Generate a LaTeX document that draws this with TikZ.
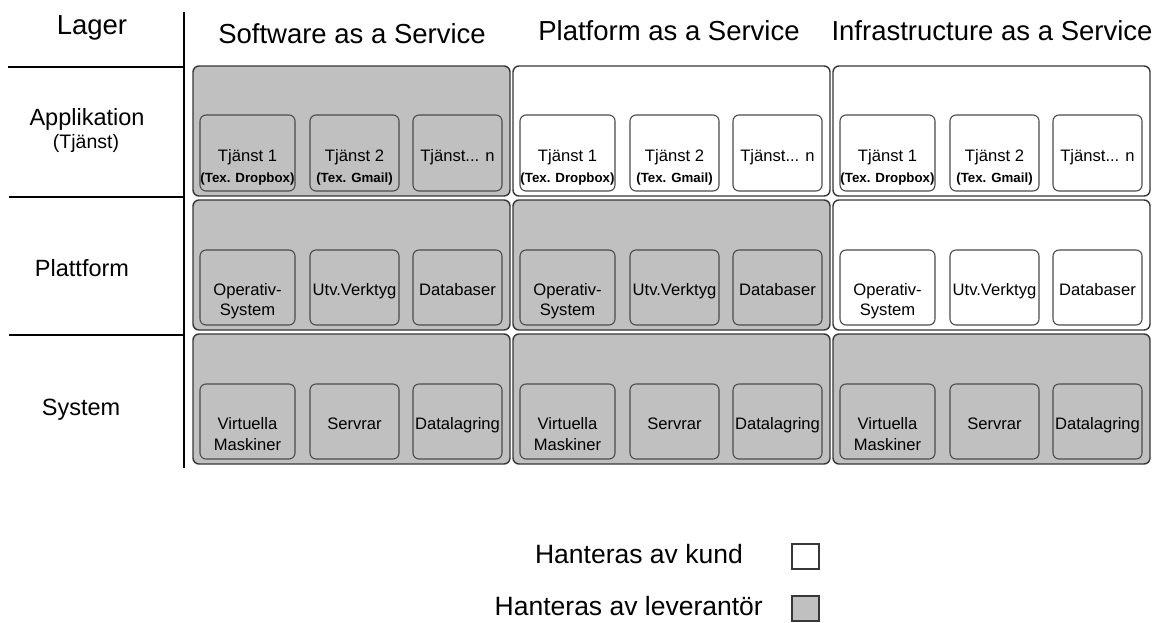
\documentclass[tikz,border=0pt]{standalone}
\usepackage{fontspec}
\setmainfont{Liberation Sans}
\definecolor{grp}{RGB}{192,192,192}
\definecolor{edgec}{RGB}{55,55,55}
\definecolor{inedge}{RGB}{75,75,75}
\tikzset{
  rule/.style={line width=2.4pt, black},
  grpbox/.style={draw=edgec, line width=1.4pt, rounded corners=6pt, anchor=north west,
    minimum width=317pt, minimum height=130pt, inner sep=0pt, outer sep=0pt},
  inbox/.style={draw=inedge, line width=1.1pt, rounded corners=6pt, anchor=north west,
    minimum height=75pt, inner sep=0pt, outer sep=0pt},
  hdr/.style={font=\fontsize{27.5}{30}\selectfont, inner sep=0pt, anchor=base},
  rowl/.style={font=\fontsize{23.5}{26}\selectfont, inner sep=0pt, anchor=base},
  rowsub/.style={font=\fontsize{19.5}{22}\selectfont, inner sep=0pt, anchor=base},
  lbl/.style={font=\fontsize{16.6}{18}\selectfont, inner sep=0pt, anchor=base},
  sublbl/.style={font=\fontsize{13.3}{15}\selectfont\bfseries, inner sep=0pt, anchor=base},
  leg/.style={font=\fontsize{26.5}{29}\selectfont, inner sep=0pt, anchor=base east},
  legbox/.style={draw=edgec, line width=1.4pt, anchor=north west, minimum width=27pt,
    minimum height=25pt, inner sep=0pt, outer sep=0pt},
}
\begin{document}
\begin{tikzpicture}[x=1pt,y=-1pt]
\useasboundingbox (0,0) rectangle (1161,622);
\fill[white] (0,0) rectangle (1161,622);
% table rules
\coordinate (vtop) at (184,12);
\coordinate (vbot) at (184,468);
\coordinate (h1a) at (8,67);   \coordinate (h1b) at (184,67);
\coordinate (h2a) at (9,197);  \coordinate (h2b) at (184,197);
\coordinate (h3a) at (9,335);  \coordinate (h3b) at (184,335);
\draw[rule] (vtop) -- (vbot);
\draw[rule] (h1a) -- (h1b);
\draw[rule] (h2a) -- (h2b);
\draw[rule] (h3a) -- (h3b);
% headers
\node[hdr] (lager) at (92,34) {Lager};
\node[hdr] (saas) at (352,43) {Software as a Service};
\node[hdr] (paas) at (669,40) {Platform as a Service};
\node[hdr] (iaas) at (992,40) {Infrastructure as a Service};
% row labels
\node[rowl] (app) at (87,125) {Applikation};
\node[rowsub] (tj) at (86,148) {(Tjänst)};
\node[rowl] (pl) at (82,276) {Plattform};
\node[rowl] (sys) at (81,415) {System};
% columns
\foreach \cx/\nm/\fa/\fb in {193/S/grp/grp, 513/P/white/grp, 833/I/white/white}{
  \node[grpbox,fill=\fa] (\nm g1) at (\cx,66) {};
  \node[grpbox,fill=\fb] (\nm g2) at (\cx,200) {};
  \node[grpbox,fill=grp] (\nm g3) at (\cx,334) {};
  % row 1
  \node[inbox,fill=\fa,minimum width=95pt,minimum height=76pt] (\nm a1) at ({\cx+7},115) {};
  \node[inbox,fill=\fa,minimum width=89pt,minimum height=76pt] (\nm a2) at ({\cx+117},115) {};
  \node[inbox,fill=\fa,minimum width=89pt,minimum height=76pt] (\nm a3) at ({\cx+220},115) {};
  % row 2
  \node[inbox,fill=\fb,minimum width=95pt] (\nm b1) at ({\cx+7},250) {};
  \node[inbox,fill=\fb,minimum width=89pt] (\nm b2) at ({\cx+117},250) {};
  \node[inbox,fill=\fb,minimum width=89pt] (\nm b3) at ({\cx+220},250) {};
  % row 3
  \node[inbox,fill=grp,minimum width=95pt] (\nm c1) at ({\cx+7},384) {};
  \node[inbox,fill=grp,minimum width=89pt] (\nm c2) at ({\cx+117},384) {};
  \node[inbox,fill=grp,minimum width=89pt] (\nm c3) at ({\cx+220},384) {};
  % texts row 1
  \node[lbl] (\nm ta1) at ({\cx+54.5},161) {Tjänst 1};
  \node[sublbl] (\nm sa1) at ({\cx+54.5},182) {(Tex. Dropbox)};
  \node[lbl] (\nm ta2) at ({\cx+161.5},161) {Tjänst 2};
  \node[sublbl] (\nm sa2) at ({\cx+161.5},182) {(Tex. Gmail)};
  \node[lbl] (\nm ta3) at ({\cx+264.5},161) {Tjänst... n};
  % texts row 2
  \node[lbl] (\nm tb1) at ({\cx+54.5},295) {Operativ-};
  \node[lbl] (\nm sb1) at ({\cx+54.5},315) {System};
  \node[lbl] (\nm tb2) at ({\cx+161.5},295) {Utv.Verktyg};
  \node[lbl] (\nm tb3) at ({\cx+264.5},295) {Databaser};
  % texts row 3
  \node[lbl] (\nm tc1) at ({\cx+54.5},429) {Virtuella};
  \node[lbl] (\nm sc1) at ({\cx+54.5},450) {Maskiner};
  \node[lbl] (\nm tc2) at ({\cx+161.5},429) {Servrar};
  \node[lbl] (\nm tc3) at ({\cx+264.5},429) {Datalagring};
}
% legend
\node[leg] (lk) at (743,563) {Hanteras av kund};
\node[leg] (ll) at (763,615) {Hanteras av leverantör};
\node[legbox,fill=white] (bk) at (792,544) {};
\node[legbox,fill=grp] (bl) at (792,596) {};
\end{tikzpicture}
\end{document}
